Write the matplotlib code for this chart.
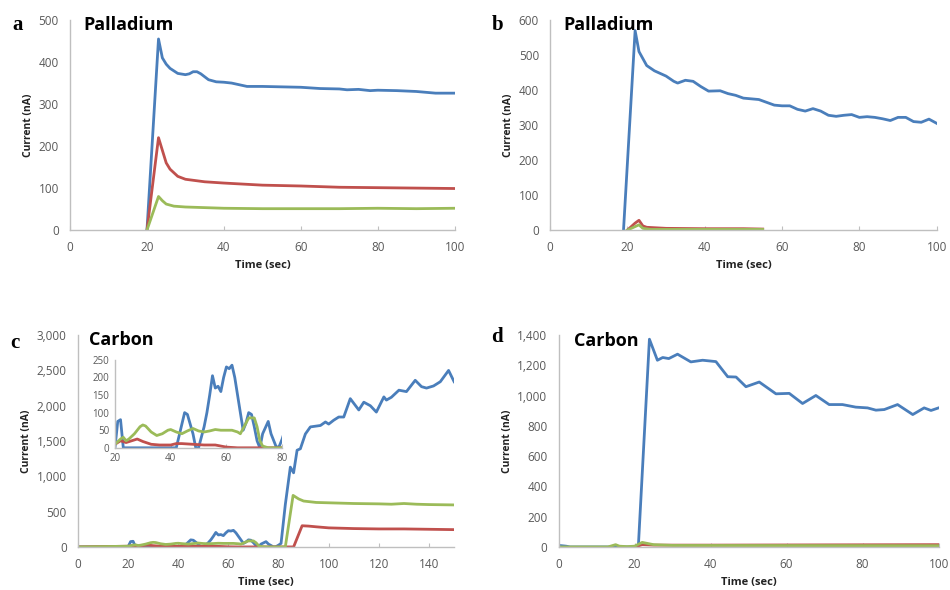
import matplotlib.pyplot as plt

# colours in the Excel-ish palette of the original figure
blue = "#4A7EBB"
red = "#C0504D"
green = "#9BBB59"
grey_txt = "#595959"
grey_ax = "#BFBFBF"

# ---- panel a (Palladium) ----
a_blue_t = [20, 23, 24, 25, 26, 28, 30, 31, 32, 33, 34, 36, 38, 40, 42, 44, 46, 50, 55, 60,
            65, 70, 72, 75, 78, 80, 85, 90, 95, 100]
a_blue_v = [0, 455, 410, 395, 385, 373, 370, 372, 377, 377, 372, 358, 353, 352, 350, 346, 342,
            342, 341, 340, 337, 336, 334, 335, 332, 333, 332, 330, 326, 326]
a_red_t = [20, 23, 24, 25, 26, 28, 30, 35, 40, 50, 60, 70, 80, 90, 100]
a_red_v = [0, 220, 190, 160, 145, 128, 121, 115, 112, 107, 105, 102, 101, 100, 99]
a_green_t = [20, 23, 24, 25, 27, 30, 40, 50, 60, 70, 80, 90, 100]
a_green_v = [0, 80, 70, 62, 57, 55, 52, 51, 51, 51, 52, 51, 52]

# ---- panel b (Palladium) ----
b_blue_t = [19, 22, 23, 24, 25, 27, 30, 32, 33, 35, 37, 39, 41, 44, 46, 48, 50, 52, 54, 56,
            58, 60, 62, 64, 66, 68, 70, 72, 74, 76, 78, 80, 82, 84, 86, 88, 90, 92, 94, 96,
            98, 100]
b_blue_v = [0, 570, 510, 490, 470, 455, 440, 425, 420, 428, 425, 410, 397, 398, 390, 385,
            377, 375, 373, 365, 357, 355, 355, 345, 340, 347, 340, 328, 325, 328, 330, 322,
            324, 322, 318, 313, 322, 322, 310, 308, 317, 305]
b_red_t = [20, 22, 23, 24, 25, 30, 40, 50, 55]
b_red_v = [0, 20, 28, 12, 8, 5, 4, 4, 3]
b_green_t = [20, 22, 23, 24, 26, 55]
b_green_v = [0, 10, 15, 5, 2, 2]

# ---- panel c (Carbon) ----
c_blue_t = [0, 20, 21, 22, 23, 42, 45, 46, 48, 49, 50, 52, 53, 54, 55, 56, 57, 58, 59, 60,
            61, 62, 63, 65, 66, 67, 68, 69, 70, 71, 72, 73, 75, 76, 78, 79, 80, 81, 82.7, 84.7,
            86, 87.4, 88.7, 90.7, 92.7, 96.7, 98.7, 100, 102, 104, 106, 108.6, 112, 114,
            116.6, 119, 122, 123, 125, 128, 131, 134.5, 137, 139, 141.8, 144.5, 147.8, 150]
c_blue_v = [0, 0, 75, 80, 0, 0, 100, 95, 40, 0, 0, 60, 100, 150, 205, 170, 175, 160, 200,
            230, 225, 235, 200, 100, 50, 70, 100, 95, 60, 20, 0, 40, 75, 40, 0, 5, 25, 50,
            600, 1130, 1050, 1370, 1390, 1600, 1700, 1720, 1770, 1740, 1795, 1840, 1840, 2100,
            1940, 2050, 2000, 1910, 2125, 2080, 2120, 2220, 2200, 2360, 2270, 2250, 2280,
            2340, 2500, 2340]
c_red_t = [0, 20, 22, 24, 26, 28, 30, 33, 36, 40, 42, 44, 48, 52, 56, 60, 64, 86, 89.4, 92,
           95, 100, 110, 120, 130, 140, 150]
c_red_v = [0, 10, 20, 15, 20, 25, 18, 10, 8, 8, 12, 12, 10, 8, 8, 2, 0, 0, 300, 295, 285,
           270, 260, 255, 255, 250, 245]
c_green_t = [0, 20, 22, 23, 24, 25, 27, 29, 30, 31, 33, 35, 37, 39, 40, 42, 44, 46, 48, 50,
             52, 54, 56, 58, 60, 62, 64, 65, 66, 68, 70, 71, 72, 73, 75, 82.7, 85.8, 88, 90,
             95, 100, 110, 120, 125, 130, 135, 140, 150]
c_green_v = [0, 10, 25, 30, 20, 25, 40, 60, 65, 62, 45, 35, 40, 50, 52, 45, 40, 48, 55, 48,
             45, 48, 52, 50, 50, 50, 45, 40, 55, 85, 85, 60, 20, 5, 0, 0, 730, 680, 650, 630,
             625, 615, 610, 605, 615, 605, 600, 595]

# ---- panel d (Carbon) ----
d_blue_t = [0, 2, 3, 20, 21, 23.9, 26, 27.4, 29, 31.3, 34.8, 37.9, 41.4, 44.5, 46.7, 49.3,
            52.8, 57.2, 60.7, 64.2, 67.7, 71.2, 74.7, 78.2, 81.3, 83.5, 85.7, 89.2, 93.2,
            96.2, 98, 100]
d_blue_v = [10, 5, 0, 0, 10, 1373, 1234, 1252, 1245, 1274, 1223, 1234, 1225, 1125, 1123,
            1059, 1090, 1012, 1015, 948, 1001, 941, 941, 924, 919, 904, 908, 941, 875, 919,
            902, 919]
d_red_t = [20, 22, 25, 40, 60, 80, 100]
d_red_v = [0, 15, 12, 12, 13, 14, 15]
d_green_t = [0, 13, 15, 16, 18, 20, 22, 23, 25, 30, 100]
d_green_v = [0, 0, 15, 5, 2, 5, 30, 25, 15, 10, 8]

tick_font = "Open Sans"
lw = 2.0


def style(ax, xlim, ylim, yticks, xticks, fmt=False, ts=8.5):
    ax.set_xlim(*xlim)
    ax.set_ylim(*ylim)
    ax.set_yticks(yticks)
    ax.set_xticks(xticks)
    if fmt:
        ax.set_yticklabels([f"{v:,}" for v in yticks])
    for s in ["top", "right"]:
        ax.spines[s].set_visible(False)
    for s in ["left", "bottom"]:
        ax.spines[s].set_color(grey_ax)
        ax.spines[s].set_linewidth(1.0)
    ax.tick_params(axis="y", length=0, pad=8, labelsize=ts, labelcolor=grey_txt)
    ax.tick_params(axis="x", direction="in", length=3, color=grey_ax, pad=8,
                   labelsize=ts, labelcolor=grey_txt)
    for lab in ax.get_xticklabels() + ax.get_yticklabels():
        lab.set_fontfamily(tick_font)


def labels(ax):
    ax.set_xlabel("Time (sec)", fontsize=8, fontweight="bold", fontfamily="Open Sans",
                  color="#222222", labelpad=4)
    ax.set_ylabel("Current (nA)", fontsize=7.5, fontweight="bold", fontfamily="Open Sans",
                  color="#222222", labelpad=3)


fig = plt.figure(figsize=(9.5, 5.9), dpi=100)

ax_a = fig.add_axes([0.0737, 0.610, 0.405, 0.356])
ax_b = fig.add_axes([0.579, 0.610, 0.407, 0.356])
ax_c = fig.add_axes([0.082, 0.073, 0.396, 0.359])
ax_d = fig.add_axes([0.588, 0.073, 0.400, 0.359])
ax_in = fig.add_axes([0.121, 0.241, 0.176, 0.149])

for ax, series in [
    (ax_a, [(a_blue_t, a_blue_v, blue), (a_red_t, a_red_v, red), (a_green_t, a_green_v, green)]),
    (ax_b, [(b_blue_t, b_blue_v, blue), (b_red_t, b_red_v, red), (b_green_t, b_green_v, green)]),
    (ax_c, [(c_blue_t, c_blue_v, blue), (c_red_t, c_red_v, red), (c_green_t, c_green_v, green)]),
    (ax_d, [(d_blue_t, d_blue_v, blue), (d_red_t, d_red_v, red), (d_green_t, d_green_v, green)]),
]:
    for t, v, c in series:
        ax.plot(t, v, color=c, lw=lw, solid_joinstyle="round")

ax_in.set_facecolor("white")
ax_in.plot(c_blue_t, c_blue_v, color=blue, lw=lw)
ax_in.plot(c_red_t, c_red_v, color=red, lw=lw)
ax_in.plot(c_green_t, c_green_v, color=green, lw=lw)

style(ax_a, (0, 100), (0, 500), range(0, 501, 100), range(0, 101, 20))
style(ax_b, (0, 100), (0, 600), range(0, 601, 100), range(0, 101, 20))
style(ax_c, (0, 150), (0, 3000), list(range(0, 3001, 500)), range(0, 141, 20), fmt=True)
style(ax_d, (0, 100), (0, 1400), list(range(0, 1401, 200)), range(0, 101, 20), fmt=True)
style(ax_in, (20, 80), (0, 250), range(0, 251, 50), range(20, 81, 20), ts=7)
ax_in.tick_params(axis="y", pad=4)
ax_in.tick_params(axis="x", pad=4)

for ax in [ax_a, ax_b, ax_c, ax_d]:
    labels(ax)

ax_a.text(0.034, 0.975, "Palladium", transform=ax_a.transAxes, fontsize=13,
          fontweight="bold", fontfamily="Open Sans", va="center")
ax_b.text(0.034, 0.975, "Palladium", transform=ax_b.transAxes, fontsize=13,
          fontweight="bold", fontfamily="Open Sans", va="center")
ax_c.text(0.03, 0.975, "Carbon", transform=ax_c.transAxes, fontsize=13,
          fontweight="bold", fontfamily="Open Sans", va="center")
ax_d.text(0.04, 0.97, "Carbon", transform=ax_d.transAxes, fontsize=13,
          fontweight="bold", fontfamily="Open Sans", va="center")

for letter, x, y in [("a", 18, 25), ("b", 498, 25), ("c", 15, 343), ("d", 497, 337)]:
    fig.text(x / 950, 1 - y / 590, letter, fontsize=15, fontweight="bold",
             fontfamily="Liberation Serif", ha="center", va="center")

fig.savefig("out.png", dpi=100)
